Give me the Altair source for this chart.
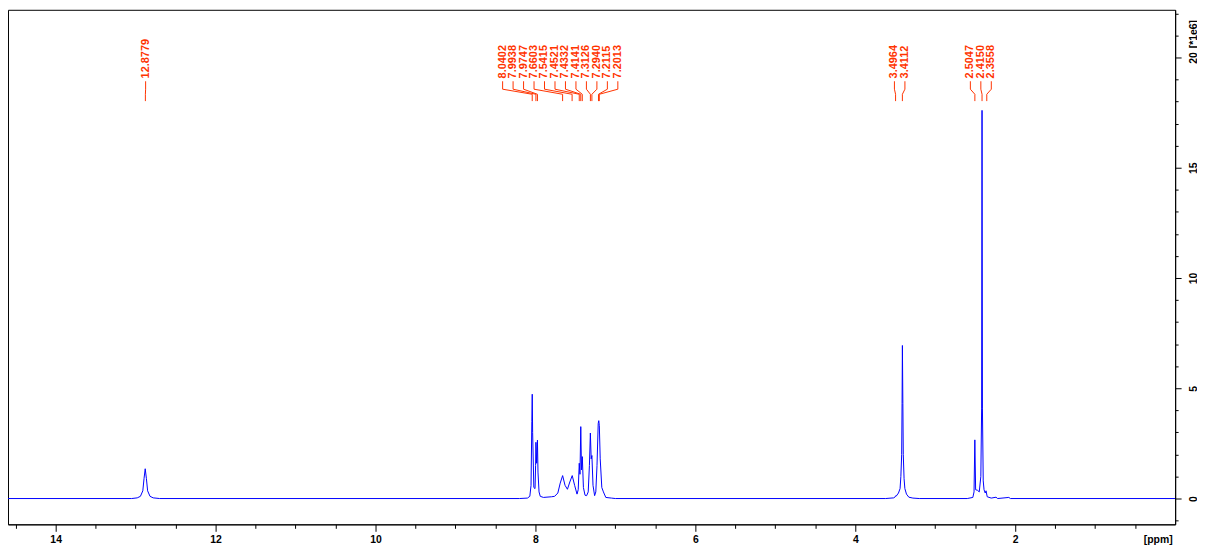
import altair as alt
import pandas as pd

# ---- spectrum (ppm, intensity in 1e6 units) ----
ppm = [14.60, 13.05, 12.98, 12.94, 12.91, 12.895, 12.88, 12.865, 12.85, 12.82, 12.78, 12.70,
       8.20, 8.10, 8.07, 8.055, 8.045, 8.040, 8.035, 8.020, 8.005, 7.998, 7.994, 7.985, 7.975,
       7.968, 7.955, 7.94, 7.90, 7.80, 7.76, 7.72, 7.69, 7.66, 7.63, 7.60, 7.57, 7.54, 7.51,
       7.48, 7.465, 7.452, 7.443, 7.433, 7.424, 7.414, 7.40, 7.38, 7.36, 7.34, 7.325, 7.313,
       7.303, 7.294, 7.28, 7.26, 7.245, 7.23, 7.215, 7.208, 7.201, 7.19, 7.17, 7.15, 7.12,
       7.05, 7.00,
       3.62, 3.52, 3.50, 3.496, 3.49, 3.46, 3.44, 3.43, 3.42, 3.415, 3.411, 3.405, 3.40, 3.39,
       3.38, 3.36, 3.33, 3.28, 3.20,
       2.60, 2.53, 2.515, 2.505, 2.495, 2.47, 2.45, 2.43, 2.42, 2.415, 2.41, 2.40, 2.39,
       2.375, 2.365, 2.35, 2.30, 2.24, 2.22, 2.08, 2.06, 0.0]
inten = [0, 0, 0.03, 0.1, 0.35, 0.9, 1.35, 0.9, 0.35, 0.1, 0.03, 0,
         0, 0.02, 0.1, 0.6, 3.5, 4.73, 3.0, 0.5, 0.45, 1.5, 2.55, 1.6, 2.65,
         1.2, 0.3, 0.1, 0.05, 0.08, 0.1, 0.25, 0.7, 1.04, 0.6, 0.42, 0.75, 1.04, 0.6,
         0.2, 0.4, 1.6, 1.1, 3.26, 1.3, 1.9, 0.5, 0.15, 0.13, 0.3, 1.5, 2.97,
         1.8, 1.95, 0.6, 0.13, 0.3, 1.5, 3.4, 3.53, 3.3, 1.8, 0.5, 0.3, 0.05,
         0.02, 0,
         0, 0.03, 0.08, 0.12, 0.1, 0.25, 0.45, 1.0, 2.0, 4.3, 6.94, 4.3, 2.0, 0.9,
         0.45, 0.2, 0.06, 0.02, 0,
         0, 0.05, 0.3, 2.66, 0.4, 0.37, 0.3, 1.0, 4.1, 17.6, 4.1, 0.8, 0.4,
         0.25, 0.35, 0.08, 0.02, 0.06, 0, 0.05, 0, 0]

# ---- peak picking labels ----
peaks = [12.8779, 8.0402, 7.9938, 7.9747, 7.6603, 7.5415, 7.4521, 7.4332, 7.4141,
         7.3126, 7.2940, 7.2115, 7.2013, 3.4964, 3.4112, 2.5047, 2.4150, 2.3558]
peak_group = [0] + [1] * 12 + [2] * 2 + [3] * 3
group_center = [12.875, 7.69, 3.445, 2.43]
label_step = 0.131

# ---- layout ----
W, H = 1175, 518
FONT = "Liberation Sans"
RED = "#ff3300"
TEXT_Y = 19.05
SEG_Y = [18.92, 18.56, 18.33, 18.02]

spec = pd.DataFrame({"ppm": ppm, "i": inten})

label_x = []
for g in range(len(group_center)):
    members = [k for k, gg in enumerate(peak_group) if gg == g]
    n = len(members)
    for j, k in enumerate(members):
        label_x.append((k, group_center[g] + ((n - 1) / 2 - j) * label_step))
label_x = [lx for _, lx in sorted(label_x)]

labels = pd.DataFrame({"lx": label_x, "y": [TEXT_Y] * len(peaks),
                       "t": [f"{p:.4f}" for p in peaks]})
segs = []
for p, lx in zip(peaks, label_x):
    segs.append({"x1": lx, "x2": lx, "y1": SEG_Y[0], "y2": SEG_Y[1]})
    segs.append({"x1": lx, "x2": p, "y1": SEG_Y[1], "y2": SEG_Y[2]})
    segs.append({"x1": p, "x2": p, "y1": SEG_Y[2], "y2": SEG_Y[3]})
segs = pd.DataFrame(segs)

xscale = alt.Scale(domain=[0, 14.596], reverse=True, nice=False, zero=False)
yscale = alt.Scale(domain=[-1.17, 22.16], nice=False, zero=False)

x_major = [14, 12, 10, 8, 6, 4, 2]
x_minor = [v / 2 for v in range(1, 30) if v % 4 != 0]
y_major = [0, 5, 10, 15, 20]
y_minor = [v for v in range(-1, 23) if v % 5 != 0]

line = alt.Chart(spec).mark_line(color="#0000ff", strokeWidth=1, clip=True).encode(
    x=alt.X("ppm:Q", scale=xscale, axis=alt.Axis(
        orient="bottom", values=x_major, tickSize=7, tickColor="black", domainColor="black",
        labelFont=FONT, labelFontWeight="bold", labelFontSize=10.5, labelColor="black",
        labelPadding=3, labelOverlap=False, grid=False,
        title="[ppm]", titleFont=FONT, titleFontWeight="bold", titleFontSize=10.5,
        titleColor="black", titleX=1172, titleY=10, titleAlign="right", titleBaseline="top")),
    y=alt.Y("i:Q", scale=yscale, axis=alt.Axis(
        orient="right", values=y_major, tickSize=6, tickColor="black", domainColor="black",
        labelFont=FONT, labelFontWeight="bold", labelFontSize=10.5, labelColor="black",
        labelAngle=270, labelAlign="center", labelBaseline="middle", labelPadding=13,
        labelOverlap=False, grid=False,
        title="[*1e6]", titleFont=FONT, titleFontWeight="bold", titleFontSize=10.5,
        titleColor="black", titleAngle=270, titleX=19, titleY=24, titleAlign="center",
        titleBaseline="middle")),
)

rules = alt.Chart(segs).mark_rule(color=RED, strokeWidth=1).encode(
    x=alt.X("x1:Q", scale=xscale, axis=alt.Axis(
        orient="bottom", values=x_minor, tickSize=4, tickColor="black", labels=False,
        domain=False, grid=False, title=None)),
    x2="x2:Q",
    y=alt.Y("y1:Q", scale=yscale, axis=alt.Axis(
        orient="right", values=y_minor, tickSize=3, tickColor="black", labels=False,
        domain=False, grid=False, title=None)),
    y2="y2:Q",
)

texts = alt.Chart(labels).mark_text(
    color=RED, font=FONT, fontWeight="bold", fontSize=11, angle=270,
    align="left", baseline="middle").encode(
    x=alt.X("lx:Q", scale=xscale, axis=None),
    y=alt.Y("y:Q", scale=yscale, axis=None),
    text="t:N",
)

chart = alt.layer(line, rules, texts).resolve_axis(
    x="independent", y="independent"
).properties(
    width=W, height=H, autosize=alt.AutoSizeParams(type="none"),
    padding={"left": 0, "top": 0, "right": 22, "bottom": 20},
).configure_view(stroke="black", strokeWidth=1)

chart.save("out.html", embed_options={"renderer": "svg", "actions": False})
